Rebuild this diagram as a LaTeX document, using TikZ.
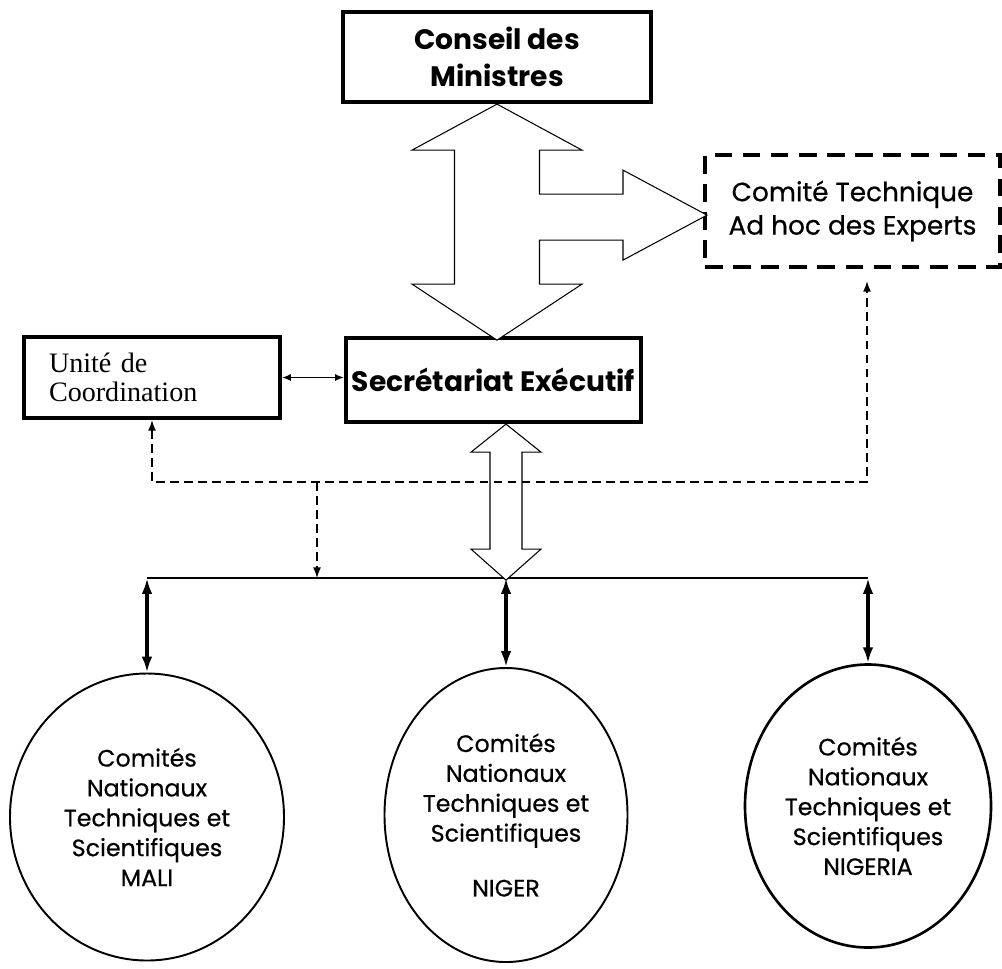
\documentclass[tikz,border=0pt]{standalone}
\usepackage{fontspec}
\setmainfont{Poppins}
\newfontfamily\medfont{Poppins}[FakeBold=0.6]
\newfontfamily\unitefont{Liberation Serif}
\usetikzlibrary{arrows.meta, shapes.geometric}

\begin{document}
\begin{tikzpicture}[
    box/.style={draw, line width=2.4pt, inner sep=0pt, align=center},
    head font/.style={font=\fontsize{16}{21}\selectfont\bfseries},
    comite box/.style={draw, line width=2.4pt, dash pattern=on 10pt off 6pt,
        inner sep=0pt, align=center, font=\medfont\fontsize{15}{19}\selectfont},
    pays/.style={draw, ellipse, line width=1.1pt, inner sep=0pt, align=center,
        font=\medfont\fontsize{13.5}{17}\selectfont},
    hollow/.style={draw, line width=0.6pt, fill=white, line join=miter},
    bus line/.style={line width=1.6pt},
    link/.style={{Latex[length=9pt,width=6pt]}-{Latex[length=9pt,width=6pt]}, line width=1.8pt},
    small link/.style={{Latex[length=5pt,width=4pt]}-{Latex[length=5pt,width=4pt]}, line width=0.8pt},
    dash both/.style={{Latex[length=6pt,width=4.5pt]}-{Latex[length=6pt,width=4.5pt]},
        line width=0.8pt, dash pattern=on 5pt off 3pt},
    dash one/.style={-{Latex[length=6pt,width=4.5pt]}, line width=0.8pt, dash pattern=on 5pt off 3pt}
]

\useasboundingbox (0,0) rectangle (20.04,-19.36);

% =============================================
% TOP: Conseil, Comite technique, Secretariat
% =============================================

% Conseil des Ministres
\node[box, head font, minimum width=6.16cm, minimum height=1.8cm] (conseil)
    at (9.94,-1.14) {Conseil des\\Ministres};

% Comite Technique (dashed)
\node[comite box, minimum width=5.9cm, minimum height=2.24cm] (comite)
    at (17.05,-4.22) {Comité Technique\\Ad hoc des Experts};

% Secretariat Executif
\node[box, head font, minimum width=5.9cm, minimum height=1.68cm] (secr)
    at (9.87,-7.6) {Secrétariat Exécutif};

% Unite de Coordination
\node[box, align=left, text width=4.12cm, inner xsep=0.5cm, minimum height=1.62cm,
    font=\unitefont\fontsize{16}{16.5}\selectfont] (unite)
    at (3.04,-7.55) {Unité de\\Coordination};

% Block arrow Conseil <-> Secretariat, with branch to Comite
\begin{scope}[shift={(conseil.south)}]
    \draw[hollow] (0,0) -- (1.7,-0.92) -- (0.85,-0.92) -- (0.85,-1.8)
        -- (2.52,-1.8) -- (2.52,-1.32) -- (4.2,-2.22) -- (2.52,-3.12)
        -- (2.52,-2.72) -- (0.85,-2.72) -- (0.85,-3.6) -- (1.7,-3.6)
        -- (0,-4.72) -- (-1.7,-3.6) -- (-0.85,-3.6) -- (-0.85,-0.92)
        -- (-1.7,-0.92) -- cycle;
\end{scope}

% Unite <-> Secretariat
\draw[small link] (unite.east) -- (unite.east -| secr.west);

% =============================================
% BOTTOM: bus line and national committees
% =============================================

\node[pays, minimum width=5.48cm, minimum height=5.74cm] (mali) at (2.94,-16.34)
    {Comités\\Nationaux\\Techniques et\\Scientifiques\\MALI};
\node[pays, minimum width=4.86cm, minimum height=5.88cm] (niger) at (10.12,-16.3)
    {Comités\\Nationaux\\Techniques et\\Scientifiques\\[0.5cm]NIGER};
\node[pays, line width=1.5pt, minimum width=4.92cm, minimum height=5.66cm] (nigeria)
    at (17.36,-16.12)
    {Comités\\Nationaux\\Techniques et\\Scientifiques\\NIGERIA};

% Bus line
\coordinate (bus) at (0,-11.56);
\draw[bus line] (mali.north |- bus) -- (nigeria.north |- bus);

% Block arrow Secretariat <-> bus
\begin{scope}[shift={(niger.north |- secr.south)}]
    \draw[hollow] (0,0) -- (0.7,-0.56) -- (0.32,-0.56) -- (0.32,-2.5)
        -- (0.7,-2.5) -- (0,-3.12) -- (-0.7,-2.5) -- (-0.32,-2.5)
        -- (-0.32,-0.56) -- (-0.7,-0.56) -- cycle;
\end{scope}

% Links bus <-> committees
\draw[link] (mali.north |- bus) -- (mali.north);
\draw[link] (niger.north |- bus) -- (niger.north);
\draw[link] (nigeria.north |- bus) -- (nigeria.north);

% Dashed links
\coordinate (dashrow) at (0,-9.64);
\coordinate (dashup) at (17.34,-9.64);
\coordinate (dashdown) at (6.34,-9.64);
\draw[dash both, shorten >=0.24cm] (unite.south) -- (unite.south |- dashrow)
    -- (dashup) -- (dashup |- comite.south);
\draw[dash one] (dashdown) -- (dashdown |- bus);

\end{tikzpicture}
\end{document}
